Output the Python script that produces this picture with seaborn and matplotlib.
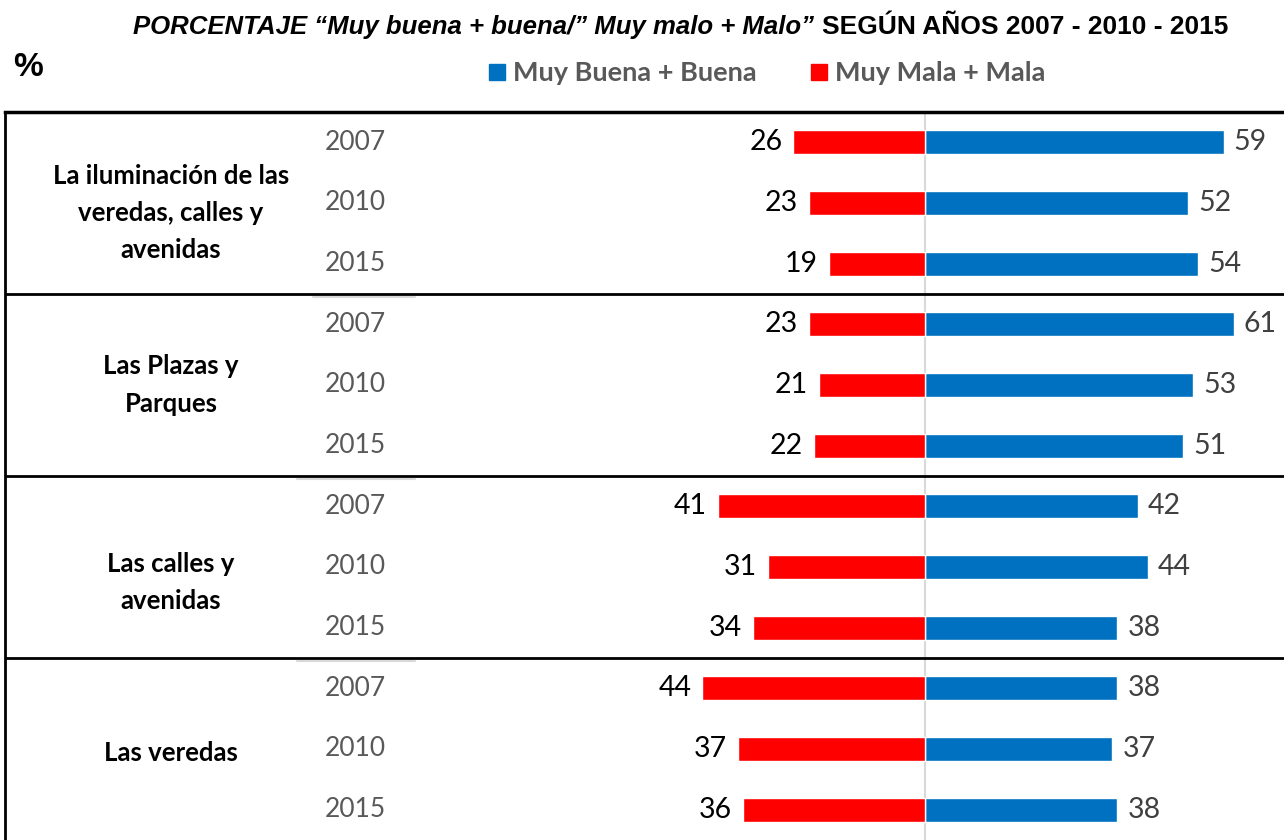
import matplotlib
matplotlib.use("Agg")
import matplotlib.pyplot as plt
from matplotlib.lines import Line2D
import seaborn as sns
import pandas as pd

# data
grupos = ["La iluminación de las\nveredas, calles y\navenidas", "Las Plazas y\nParques",
          "Las calles y\navenidas", "Las veredas"]
anios = ["2007", "2010", "2015"]
buena = [59, 52, 54, 61, 53, 51, 42, 44, 38, 38, 37, 38]
mala = [26, 23, 19, 23, 21, 22, 41, 31, 34, 44, 37, 36]
serie_buena = "Muy Buena + Buena"
serie_mala = "Muy Mala + Mala"

AZUL = "#0070C0"
ROJO = "#FF0000"

filas = [str(i) for i in range(len(buena))]
df = pd.DataFrame({
    "fila": filas + filas,
    "valor": buena + [-v for v in mala],
    "serie": [serie_buena] * len(buena) + [serie_mala] * len(mala),
})

sns.set_theme(style="white")
plt.rcParams["font.family"] = ["Lato", "DejaVu Sans"]

W, H = 1284, 840
fig = plt.figure(figsize=(W / 100, H / 100), dpi=100)
ax = fig.add_axes([5 / W, 0, 1279 / W, 728 / H])

sns.barplot(data=df, x="valor", y="fila", hue="serie", order=filas,
            palette={serie_buena: AZUL, serie_mala: ROJO}, dodge=False,
            saturation=1, width=0.4, orient="h", ax=ax, legend=False, zorder=3)

px = 5.06  # pixels per percent unit
ax.set_xlim(-(925 - 5) / px, (1284 - 925) / px)
ax.set_ylim(len(filas) - 0.5, -0.5)
ax.axvline(0, color="#d9d9d9", lw=1.5, zorder=1)

# value labels
for i, (b, m) in enumerate(zip(buena, mala)):
    ax.text(b + 2.0, i, str(b), ha="left", va="center", fontsize=20.5, color="#404040")
    ax.text(-m - 2.2, i, str(m), ha="right", va="center", fontsize=20.5, color="black")

# year labels and group labels
x_anio = (355 - 925) / px
x_grupo = (171 - 925) / px
for g in range(len(grupos)):
    for j, a in enumerate(anios):
        ax.text(x_anio, g * 3 + j, a, ha="center", va="center", fontsize=19, color="#595959")
y_grupo = [1.17, 4.0, 7.25, 10.07]
for g, nombre in enumerate(grupos):
    ax.text(x_grupo, y_grupo[g], nombre, ha="center", va="center", fontsize=18.5,
            fontweight="bold", color="black", linespacing=1.65)

# table frame
for y in [2.5, 5.5, 8.5]:
    ax.axhline(y, color="black", lw=2, zorder=4)
for y, (x0, x1) in zip([2.55, 5.55, 8.55], [(313, 415), (297, 415), (297, 415)]):
    ax.plot([(x0 - 925) / px, (x1 - 925) / px], [y, y], color="#d9d9d9", lw=1.5, zorder=1)

ax.set_xlabel("")
ax.set_ylabel("")
ax.set_xticks([])
ax.set_yticks([])
sns.despine(ax=ax, right=True, bottom=True, top=False, left=False)
ax.spines["top"].set_linewidth(2.5)
ax.spines["left"].set_linewidth(2)
ax.spines["top"].set_color("black")
ax.spines["left"].set_color("black")

# title
fig.text(814 / W, 1 - 27 / H, "PORCENTAJE “Muy buena + buena/” Muy malo + Malo”",
         ha="right", va="center", fontsize=18.5, fontstyle="italic", fontweight="bold",
         family="Liberation Sans", color="black")
fig.text(822 / W, 1 - 27 / H, "SEGÚN AÑOS 2007 - 2010 - 2015",
         ha="left", va="center", fontsize=19, fontweight="bold",
         family="Liberation Sans", color="black")
fig.text(28 / W, 1 - 68 / H, "%", ha="center", va="center", fontsize=24,
         fontweight="bold", family="Liberation Sans", color="black")

# legend
handles = [Line2D([], [], marker="s", ls="", color=AZUL, markersize=11),
           Line2D([], [], marker="s", ls="", color=ROJO, markersize=11)]
fig.legend(handles, [serie_buena, serie_mala], loc="center",
           bbox_to_anchor=(767 / W, 1 - 73 / H), ncol=2, frameon=False,
           handlelength=0.6, handletextpad=0.3, columnspacing=2.0,
           prop={"family": "Lato", "weight": "bold", "size": 19.5}, labelcolor="#595959")

fig.savefig("out.png", dpi=100)
